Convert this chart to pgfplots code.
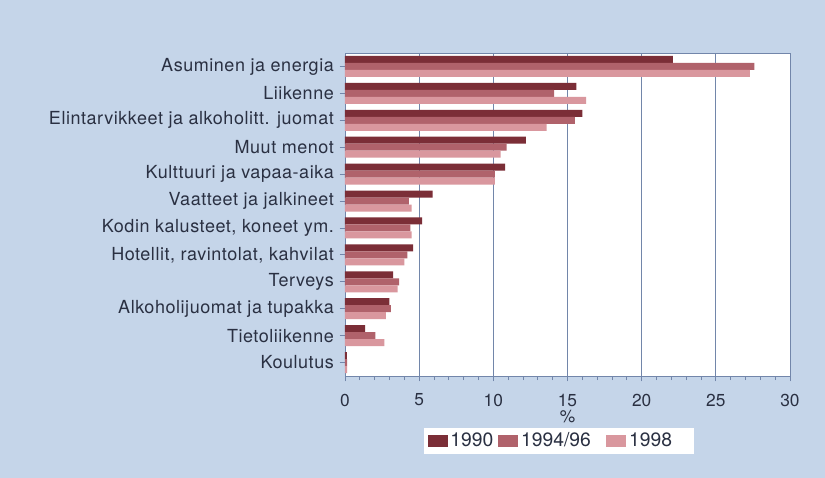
\documentclass[border=0pt]{standalone}
\usepackage{fontspec}
\setmainfont{TeX Gyre Heros}
\newfontfamily\lblfont{TeX Gyre Heros}[LetterSpace=3]
\usepackage{pgfplots}
\pgfplotsset{compat=1.18}
\definecolor{bg}{HTML}{C5D5E9}
\definecolor{frame}{HTML}{7286AA}
\definecolor{txt}{HTML}{2A3042}
\definecolor{cA}{HTML}{7B2E37}
\definecolor{cB}{HTML}{B0626B}
\definecolor{cC}{HTML}{D9979E}

\begin{document}
\fontsize{12.5}{15}\selectfont
\begin{tikzpicture}
\fill[bg] (0,0) rectangle (618.75pt,358.5pt);
\begin{axis}[
  at={(258.75pt,76.5pt)}, anchor=south west,
  scale only axis, width=333.75pt, height=242.25pt,
  xbar, bar width=0.26,
  xmin=0, xmax=30, xtick={0,5,...,30}, minor x tick num=4,
  xmajorgrids, grid style={frame, line width=0.6pt},
  ymin=-0.5, ymax=11.5, y dir=reverse, ytick={0,...,11},
  yticklabels={Asuminen ja energia, Liikenne, Elintarvikkeet ja alkoholitt. juomat,
    Muut menot, Kulttuuri ja vapaa-aika, Vaatteet ja jalkineet,
    {Kodin kalusteet, koneet ym.}, {Hotellit, ravintolat, kahvilat}, Terveys,
    Alkoholijuomat ja tupakka, Tietoliikenne, Koulutus},
  axis line style={frame, line width=0.7pt}, tick style={frame, line width=0.6pt},
  tick align=outside, major tick length=4pt, minor tick length=3pt,
  xtick pos=bottom, ytick pos=left,
  axis background/.style={fill=white},
  /pgf/number format/assume math mode=true,
  xticklabel style={font=\fontsize{13}{15}\selectfont, text=txt, yshift=-5pt},
  yticklabel style={font=\lblfont\fontsize{13.5}{15}\selectfont, text=txt},
  xlabel={\%}, xlabel style={font=\fontsize{13}{15}\selectfont, text=txt, yshift=6pt},
  legend columns=3,
  legend style={at={(0.481,-0.201)}, anchor=center, draw=none, fill=white,
    font=\fontsize{14.5}{16}\selectfont, text=txt, inner xsep=3pt, inner ysep=1.5pt},
  legend image code/.code={\fill[#1] (0pt,-4.5pt) rectangle (15pt,4.5pt);},
]
\addplot[fill=cA, draw=none, bar shift=-0.26] coordinates {
  (22.1,0) (15.6,1) (16.0,2) (12.2,3) (10.8,4) (5.9,5) (5.2,6) (4.6,7) (3.25,8) (3.0,9) (1.35,10) (0.13,11)};
\addplot[fill=cB, draw=none, bar shift=0] coordinates {
  (27.6,0) (14.1,1) (15.5,2) (10.9,3) (10.1,4) (4.3,5) (4.4,6) (4.2,7) (3.65,8) (3.1,9) (2.05,10) (0.15,11)};
\addplot[fill=cC, draw=none, bar shift=0.26] coordinates {
  (27.3,0) (16.25,1) (13.6,2) (10.5,3) (10.1,4) (4.5,5) (4.5,6) (4.0,7) (3.55,8) (2.75,9) (2.65,10) (0.15,11)};
\addlegendentry{\makebox[34pt][l]{1990}}
\addlegendentry{\makebox[62pt][l]{1994/96}}
\addlegendentry{\makebox[44pt][l]{1998}}
\end{axis}
\end{tikzpicture}
\end{document}
